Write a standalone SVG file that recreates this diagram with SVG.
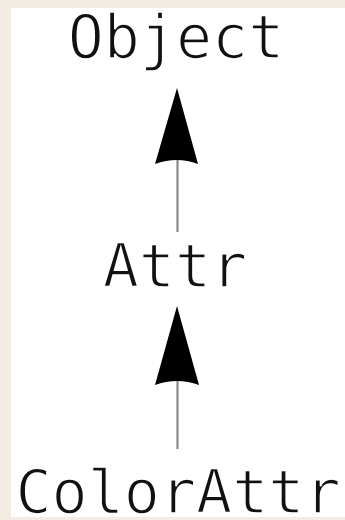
<svg xmlns="http://www.w3.org/2000/svg" width="345" height="520" viewBox="0 0 345 520">
<style>
.lbl{font-family:"DejaVu Sans Mono","Liberation Mono",monospace;font-size:60px;fill:#111;text-anchor:middle;stroke:#ffffff;stroke-width:1.6px}
.line{stroke:#8a8a8a;stroke-width:2.2;fill:none}
.head{fill:#000}
</style>
<rect width="345" height="520" fill="#f3ece2"/>
<rect x="11" y="8" width="334" height="509" fill="#ffffff"/>
<g id="connectors">
<line class="line" x1="177.5" y1="160" x2="177.5" y2="232"/>
<path class="head" d="M177,88 L198,164 Q177,156 155,164 Z"/>
<line class="line" x1="177.5" y1="380" x2="177.5" y2="449"/>
<path class="head" d="M177,306 L199,385 Q177,377 155,385 Z"/>
</g>
<g id="Object"><text class="lbl" x="176" y="58">Object</text></g>
<g id="Attr"><text class="lbl" x="175" y="287">Attr</text></g>
<g id="ColorAttr"><text class="lbl" x="178" y="513">ColorAttr</text></g>
</svg>
